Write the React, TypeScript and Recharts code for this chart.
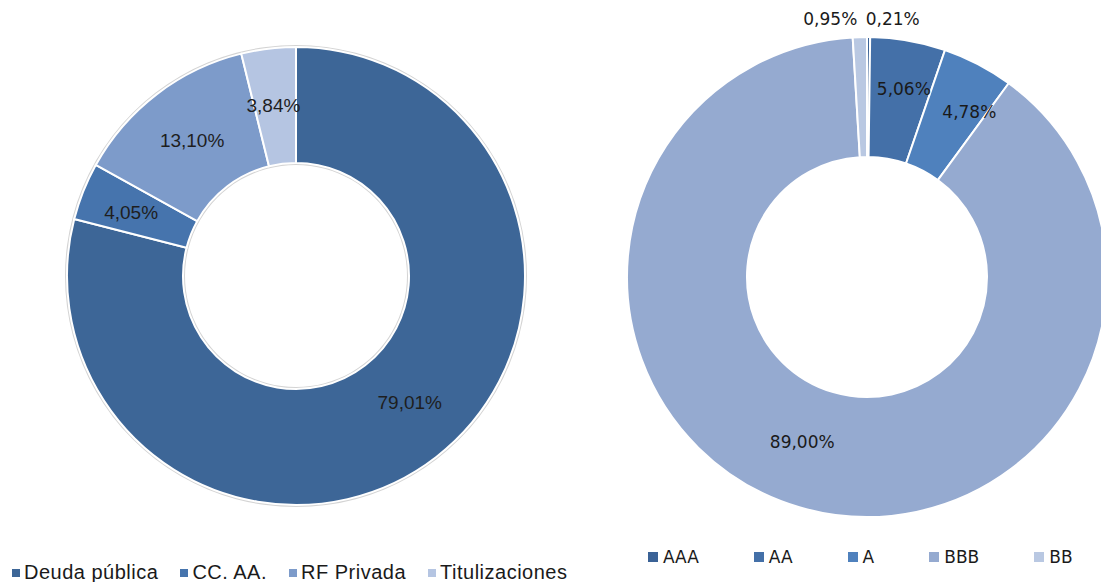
import { Legend, Pie, PieChart } from 'recharts'

// left donut: portfolio by asset type
const tipoNames = ['Deuda pública', 'CC. AA.', 'RF Privada', 'Titulizaciones']
const tipoValues = [79.01, 4.05, 13.1, 3.84]
const tipoColors = ['#3d6697', '#4674ad', '#7d9bca', '#b5c5e2']

// right donut: portfolio by rating
const ratingNames = ['AAA', 'AA', 'A', 'BBB', 'BB']
const ratingValues = [0.21, 5.06, 4.78, 89.0, 0.95]
const ratingColors = ['#3a6296', '#4470a8', '#4f81bd', '#95aad0', '#b9c8e2']

const fmt = (v: number) => v.toFixed(2).replace('.', ',') + '%'

const RAD = Math.PI / 180
const NO_MARGIN = { top: 0, right: 0, bottom: 0, left: 0 }

// label tweaks, Excel does not centre labels exactly
const tipoNudge = [[9, -9], [-6, 0], [0, 0], [-2, -1]]
const ratingNudge = [[24, 0], [6, -11], [19, -5], [-14, -8], [-29, 0]]
const ratingOutside = [true, false, false, false, true]

function makeLabel(opts: { nudge: number[][]; outside?: boolean[]; font: string; size: number; color: string }) {
  return (p: any) => {
    const { cx, cy, midAngle, innerRadius, outerRadius, index, value } = p
    const r = opts.outside?.[index] ? outerRadius + 18 : (innerRadius + outerRadius) / 2
    const [dx, dy] = opts.nudge[index] ?? [0, 0]
    const x = cx + r * Math.cos(-midAngle * RAD) + dx
    const y = cy + r * Math.sin(-midAngle * RAD) + dy
    return (
      <text
        x={x}
        y={y}
        textAnchor="middle"
        dominantBaseline="central"
        fontFamily={opts.font}
        fontSize={opts.size}
        fill={opts.color}
      >
        {fmt(value)}
      </text>
    )
  }
}

function LegendRow({ names, colors, font, size, gap, box, spacing = 0 }: { names: string[]; colors: string[]; font: string; size: number; gap: number; box: number; spacing?: number }) {
  return (
    <div style={{ display: 'flex', alignItems: 'center', gap, fontFamily: font, fontSize: size, letterSpacing: spacing, color: '#1a1a1a', whiteSpace: 'nowrap' }}>
      {names.map((n, i) => (
        <div key={n} style={{ display: 'flex', alignItems: 'center' }}>
          <span style={{ display: 'inline-block', width: box, height: box, background: colors[i], marginRight: box === 8 ? 4 : 5 }} />
          <span>{n}</span>
        </div>
      ))}
    </div>
  )
}

export default function App() {
  const tipoData = tipoNames.map((name, i) => ({ name, value: tipoValues[i], fill: tipoColors[i] }))
  const ratingData = ratingNames.map((name, i) => ({ name, value: ratingValues[i], fill: ratingColors[i] }))

  return (
    <div style={{ position: 'absolute', left: 0, top: 0, width: 1101, height: 582, overflow: 'hidden', background: '#fff' }}>
      <div style={{ position: 'absolute', left: 0, top: 0 }}>
        <PieChart width={600} height={582} margin={NO_MARGIN}>
          <Pie
            data={[{ name: 'ring', value: 1 }]}
            dataKey="value"
            cx={296}
            cy={276}
            innerRadius={111}
            outerRadius={231}
            fill="#d4d4d4"
            stroke="none"
            isAnimationActive={false}
            legendType="none"
          />
          <Pie
            data={tipoData}
            dataKey="value"
            nameKey="name"
            cx={296}
            cy={276}
            innerRadius={113}
            outerRadius={229}
            startAngle={90}
            endAngle={-270}
            stroke="#ffffff"
            strokeWidth={2}
            labelLine={false}
            label={makeLabel({ nudge: tipoNudge, font: 'Liberation Sans, Arial, sans-serif', size: 19, color: '#1e1e1e' })}
            isAnimationActive={false}
          />
          <Legend
            wrapperStyle={{ left: 12, top: 561, width: 'auto' }}
            content={() => (
              <LegendRow names={tipoNames} colors={tipoColors} font="Liberation Sans, Arial, sans-serif" size={20} gap={22} box={8} spacing={0.5} />
            )}
          />
        </PieChart>
      </div>
      <div style={{ position: 'absolute', left: 600, top: 0 }}>
        <PieChart width={520} height={582} margin={NO_MARGIN}>
          <Pie
            data={ratingData}
            dataKey="value"
            nameKey="name"
            cx={267}
            cy={277}
            innerRadius={120}
            outerRadius={240}
            startAngle={90}
            endAngle={-270}
            stroke="#ffffff"
            strokeWidth={2}
            labelLine={false}
            label={makeLabel({ nudge: ratingNudge, outside: ratingOutside, font: 'DejaVu Sans, Verdana, sans-serif', size: 17, color: '#1a1a1a' })}
            isAnimationActive={false}
          />
          <Legend
            wrapperStyle={{ left: 48, top: 547, width: 'auto' }}
            content={() => (
              <LegendRow names={ratingNames} colors={ratingColors} font="DejaVu Sans, Verdana, sans-serif" size={17} gap={55} box={10} />
            )}
          />
        </PieChart>
      </div>
    </div>
  )
}
